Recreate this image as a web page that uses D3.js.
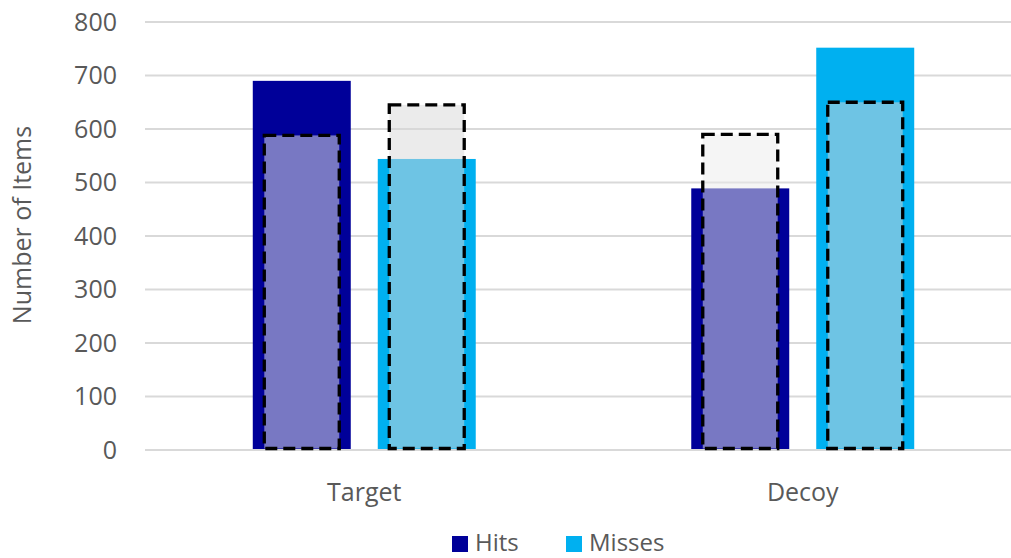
<!DOCTYPE html>
<html>
<head>
<meta charset="utf-8">
<script src="https://cdn.jsdelivr.net/npm/d3@7"></script>
<style>
  body { margin: 0; background: #fff; }
  svg { display: block; font-family: "Open Sans", sans-serif; }
</style>
</head>
<body>
<div id="vis"></div>
<script>
const FRAME_WIDTH = 1011;
const FRAME_HEIGHT = 558;
const MARGINS = {left: 145, right: -11, top: 22, bottom: 108};

const CATEGORIES = ["Target", "Decoy"];
const SERIES = ["Hits", "Misses"];
const HITS = [690, 489];
const MISSES = [544, 752];
// dashed outlines (expected counts)
const EXP_HITS = [588, 590];
const EXP_MISSES = [645, 650];
const Y_TICKS = [0, 100, 200, 300, 400, 500, 600, 700, 800];

const COLORS = {Hits: "#000099", Misses: "#00B0F0"};
const OVERLAY = {Hits: "rgba(235,235,235,0.51)", Misses: "rgba(215,215,215,0.51)"};

const Y_SCALE = d3.scaleLinear()
  .domain([0, 800])
  .range([FRAME_HEIGHT - MARGINS.bottom, MARGINS.top]);

const X0 = d3.scaleBand()
  .domain(CATEGORIES)
  .range([MARGINS.left, FRAME_WIDTH - MARGINS.right])
  .paddingInner(0.4915)
  .paddingOuter(0.2458);

const X1 = d3.scaleBand()
  .domain(SERIES)
  .range([0, X0.bandwidth()])
  .paddingInner(0.216);

const FRAME = d3.select("#vis")
  .append("svg")
    .attr("width", FRAME_WIDTH)
    .attr("height", FRAME_HEIGHT);

// gridlines
FRAME.append("g")
  .selectAll("line")
  .data(Y_TICKS)
  .enter()
  .append("line")
    .attr("x1", MARGINS.left)
    .attr("x2", FRAME_WIDTH)
    .attr("y1", d => Y_SCALE(d))
    .attr("y2", d => Y_SCALE(d))
    .attr("stroke", "#d9d9d9")
    .attr("stroke-width", 2);

// y axis labels
const yAxis = FRAME.append("g")
  .attr("transform", "translate(117,0)")
  .call(d3.axisLeft(Y_SCALE).tickValues(Y_TICKS).tickSize(0).tickPadding(0));
yAxis.select(".domain").remove();
yAxis.selectAll("text")
  .attr("fill", "#595959")
  .style("font-size", "25px")
  .style("font-family", "'Open Sans', sans-serif");

// rows of data for the bars
const rows = CATEGORIES.map((c, i) => ({
  cat: c,
  vals: [
    {s: "Hits", v: HITS[i], e: EXP_HITS[i]},
    {s: "Misses", v: MISSES[i], e: EXP_MISSES[i]}
  ]
}));

const groups = FRAME.selectAll(".grp")
  .data(rows)
  .enter()
  .append("g")
    .attr("class", "grp")
    .attr("transform", d => "translate(" + X0(d.cat) + ",0)");

groups.selectAll(".bar")
  .data(d => d.vals)
  .enter()
  .append("rect")
    .attr("class", "bar")
    .attr("x", d => X1(d.s))
    .attr("width", X1.bandwidth())
    .attr("y", d => Y_SCALE(d.v))
    .attr("height", d => Y_SCALE(0) - Y_SCALE(d.v) - 1)
    .attr("fill", d => COLORS[d.s]);

const dashW = X1.bandwidth() * 0.765;
groups.selectAll(".exp")
  .data(d => d.vals)
  .enter()
  .append("rect")
    .attr("class", "exp")
    .attr("x", d => X1(d.s) + (X1.bandwidth() - dashW) / 2)
    .attr("width", dashW)
    .attr("y", d => Y_SCALE(d.e))
    .attr("height", d => Y_SCALE(0) - Y_SCALE(d.e) - 1.5)
    .attr("fill", d => OVERLAY[d.s])
    .attr("stroke", "#000")
    .attr("stroke-width", 3.3)
    .attr("stroke-dasharray", "12,6");

// x axis labels
FRAME.append("g")
  .selectAll("text")
  .data(CATEGORIES)
  .enter()
  .append("text")
    .attr("x", d => X0(d) + X0.bandwidth() / 2)
    .attr("y", 501)
    .attr("text-anchor", "middle")
    .attr("fill", "#595959")
    .style("font-size", "25px")
    .text(d => d);

// y axis title
FRAME.append("text")
  .attr("transform", "translate(31,225) rotate(-90)")
  .attr("text-anchor", "middle")
  .attr("fill", "#595959")
  .style("font-size", "25px")
  .text("Number of Items");

// legend
const LEGEND_X = [452, 566];
const legend = FRAME.append("g")
  .selectAll("g")
  .data(SERIES)
  .enter()
  .append("g")
    .attr("transform", (d, i) => "translate(" + LEGEND_X[i] + ",0)");
legend.append("rect")
  .attr("y", 536)
  .attr("width", 16)
  .attr("height", 16)
  .attr("fill", d => COLORS[d]);
legend.append("text")
  .attr("x", 23)
  .attr("y", 551)
  .attr("fill", "#595959")
  .style("font-size", "24px")
  .text(d => d);
</script>
</body>
</html>
